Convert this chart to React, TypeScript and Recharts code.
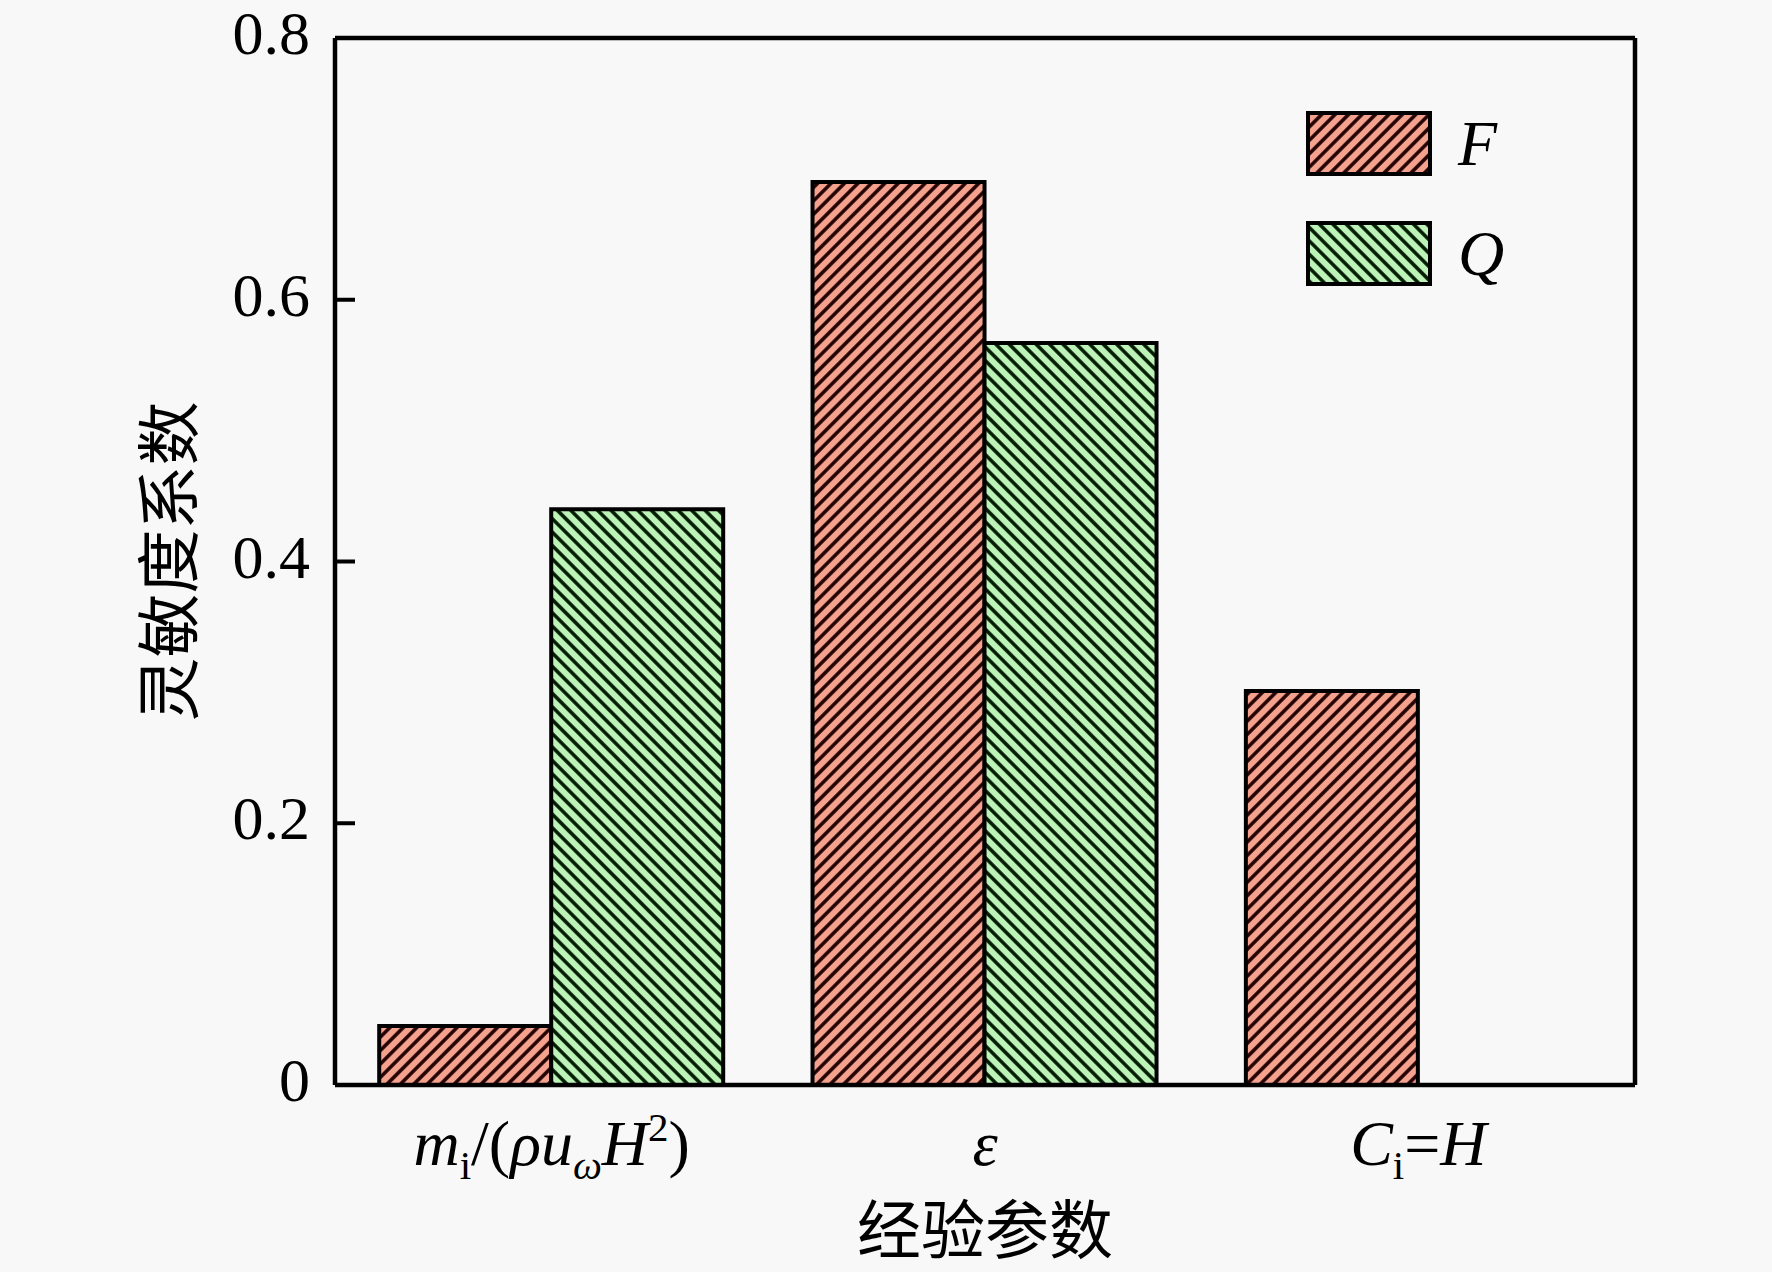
import React from "react";
import { BarChart, Bar, XAxis, YAxis, Legend } from "recharts";

const categories = ["m", "eps", "C"];
const seriesF = [0.045, 0.69, 0.301];
const seriesQ = [0.44, 0.567, 0];
const yTicks = [0, 0.2, 0.4, 0.6, 0.8];
const xTitle = "经验参数";
const yTitle = "灵敏度系数";

const data = categories.map((c, i) => ({ name: c, F: seriesF[i], Q: seriesQ[i] }));

const SERIF = "'Liberation Serif', 'Times New Roman', serif";
const CJK = "'Noto Sans CJK SC', sans-serif";
const FILL_F = "#F4A28E";
const FILL_Q = "#BDF2B8";

const YTick = (props: any) => {
    const { x, y, payload } = props;
    const v = payload.value;
    const inner = v > 0 && v < 0.8;
    return (
        <g>
            {inner && <line x1={x} y1={y} x2={x + 20} y2={y} stroke="#000" strokeWidth={4} />}
            <text x={x - 25} y={y} dy={16} textAnchor="end" fontFamily={SERIF} fontSize={62} fill="#000">
                {v === 0 ? "0" : v.toFixed(1)}
            </text>
        </g>
    );
};

const XTick = (props: any) => {
    const { x, y, payload } = props;
    const common = { x, y: y + 80, textAnchor: "middle" as const, fontFamily: SERIF, fontSize: 64, fill: "#000" };
    if (payload.value === "m") {
        return (
            <text {...common}>
                <tspan fontStyle="italic">m</tspan>
                <tspan fontSize={41} dy={14}>i</tspan>
                <tspan dy={-14}>/(</tspan>
                <tspan fontStyle="italic">ρu</tspan>
                <tspan fontStyle="italic" fontSize={41} dy={14}>ω</tspan>
                <tspan fontStyle="italic" dy={-14}>H</tspan>
                <tspan fontSize={41} dy={-24}>2</tspan>
                <tspan dy={24}>)</tspan>
            </text>
        );
    }
    if (payload.value === "eps") {
        return (
            <text {...common}>
                <tspan fontStyle="italic">ε</tspan>
            </text>
        );
    }
    return (
        <text {...common}>
            <tspan fontStyle="italic">C</tspan>
            <tspan fontSize={41} dy={14}>i</tspan>
            <tspan dy={-14}>=</tspan>
            <tspan fontStyle="italic">H</tspan>
        </text>
    );
};

const LegendBox = () => (
    <svg width={280} height={190} style={{ overflow: "visible" }}>
        {[
            { key: "F", fill: "url(#hatchF)", y: 3 },
            { key: "Q", fill: "url(#hatchQ)", y: 113 },
        ].map(({ key, fill, y }) => (
            <g key={key}>
                <rect x={2} y={y} width={122} height={61} fill={fill} stroke="#000" strokeWidth={4} />
                <text x={152} y={y + 52} fontFamily={SERIF} fontStyle="italic" fontSize={64} fill="#000">
                    {key}
                </text>
            </g>
        ))}
    </svg>
);

export default function App() {
    return (
        <div style={{ width: 1772, height: 1272, background: "#f8f8f8" }}>
            <style>{`body{margin:0;background:#f8f8f8}`}</style>
            <BarChart
                width={1772}
                height={1272}
                data={data}
                margin={{ top: 37, right: 136, bottom: 0, left: 0 }}
                barCategoryGap="10.2%"
                barGap={0}
            >
                <defs>
                    <pattern id="hatchF" patternUnits="userSpaceOnUse" width={9.5} height={9.5} patternTransform="rotate(45)">
                        <rect width={9.5} height={9.5} fill={FILL_F} />
                        <line x1={4.75} y1={0} x2={4.75} y2={9.5} stroke="#200000" strokeWidth={3.5} />
                    </pattern>
                    <pattern id="hatchQ" patternUnits="userSpaceOnUse" width={9.5} height={9.5} patternTransform="rotate(-45)">
                        <rect width={9.5} height={9.5} fill={FILL_Q} />
                        <line x1={4.75} y1={0} x2={4.75} y2={9.5} stroke="#001a00" strokeWidth={3.5} />
                    </pattern>
                </defs>
                <XAxis
                    dataKey="name"
                    height={187}
                    axisLine={{ stroke: "#000", strokeWidth: 4.5 }}
                    tickLine={false}
                    tickSize={0}
                    tickMargin={0}
                    tick={<XTick />}
                    interval={0}
                    label={{
                        content: (p: any) => {
                            const vb = p.viewBox;
                            return (
                                <text x={vb.x + vb.width / 2} y={vb.y + 168} textAnchor="middle" fontFamily={CJK} fontSize={64} fill="#000">
                                    {xTitle}
                                </text>
                            );
                        },
                    }}
                />
                <XAxis xAxisId="top" dataKey="name" orientation="top" height={1} tick={false} tickLine={false} axisLine={{ stroke: "#000", strokeWidth: 4.5 }} />
                <YAxis
                    width={335}
                    domain={[0, 0.8]}
                    ticks={yTicks}
                    axisLine={{ stroke: "#000", strokeWidth: 4.5 }}
                    tickLine={false}
                    tickSize={0}
                    tickMargin={0}
                    tick={<YTick />}
                    label={{
                        content: (p: any) => {
                            const vb = p.viewBox;
                            const cx = 170;
                            const cy = vb.y + vb.height / 2;
                            return (
                                <text
                                    x={cx}
                                    y={cy}
                                    dy={22}
                                    textAnchor="middle"
                                    transform={`rotate(-90, ${cx}, ${cy})`}
                                    fontFamily={CJK}
                                    fontSize={64}
                                    fill="#000"
                                >
                                    {yTitle}
                                </text>
                            );
                        },
                    }}
                />
                <YAxis yAxisId="right" orientation="right" width={1} domain={[0, 0.8]} tick={false} tickLine={false} axisLine={{ stroke: "#000", strokeWidth: 4.5 }} />
                <Legend
                    layout="vertical"
                    align="center"
                    verticalAlign="middle"
                    content={() => <LegendBox />}
                    wrapperStyle={{ left: 1306, top: 110, width: 280, height: 190 }}
                />
                <Bar dataKey="F" fill="url(#hatchF)" stroke="#000" strokeWidth={4} isAnimationActive={false} />
                <Bar dataKey="Q" fill="url(#hatchQ)" stroke="#000" strokeWidth={4} isAnimationActive={false} />
            </BarChart>
        </div>
    );
}
